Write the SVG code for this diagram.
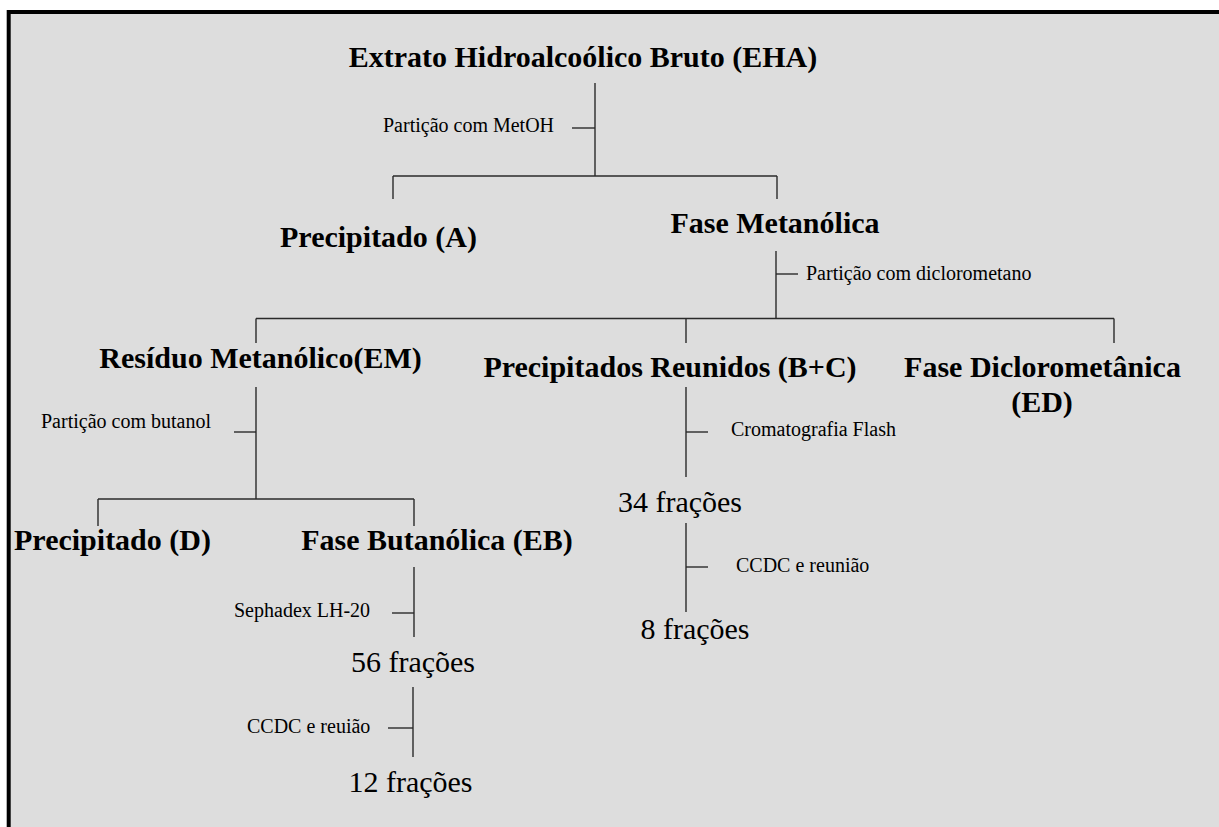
<svg xmlns="http://www.w3.org/2000/svg" width="1219" height="827" viewBox="0 0 1219 827">
<style>
.b{font-family:"Liberation Serif","Times New Roman",serif;font-weight:bold;font-size:30px;fill:#000;text-anchor:middle}
.r{font-family:"Liberation Serif","Times New Roman",serif;font-size:30px;fill:#000;text-anchor:middle}
.s{font-family:"Liberation Serif","Times New Roman",serif;font-size:20px;fill:#000}
.c line{stroke:#2a2a2a;stroke-width:1.4}
</style>
<rect x="0" y="0" width="1219" height="827" fill="#fff"/>
<rect x="8.7" y="12" width="1300" height="900" fill="#ddd" stroke="#000" stroke-width="4"/>
<g class="c" id="connectors">
<line x1="595" y1="83" x2="595" y2="176"/>
<line x1="572" y1="128" x2="595" y2="128"/>
<line x1="393" y1="176" x2="777" y2="176"/>
<line x1="393" y1="176" x2="393" y2="199"/>
<line x1="777" y1="176" x2="777" y2="199"/>
<line x1="776" y1="251" x2="776" y2="318.5"/>
<line x1="776" y1="274" x2="798" y2="274"/>
<line x1="256" y1="318.5" x2="1114" y2="318.5"/>
<line x1="256" y1="318.5" x2="256" y2="343"/>
<line x1="686" y1="318.5" x2="686" y2="343"/>
<line x1="1114" y1="318.5" x2="1114" y2="343"/>
<line x1="256" y1="387" x2="256" y2="499"/>
<line x1="234" y1="432" x2="256" y2="432"/>
<line x1="98" y1="499" x2="414" y2="499"/>
<line x1="98" y1="499" x2="98" y2="526"/>
<line x1="414" y1="499" x2="414" y2="526"/>
<line x1="414" y1="567" x2="414" y2="637"/>
<line x1="392" y1="613" x2="414" y2="613"/>
<line x1="413" y1="687" x2="413" y2="757"/>
<line x1="388" y1="728" x2="413" y2="728"/>
<line x1="686" y1="387" x2="686" y2="477"/>
<line x1="686" y1="432" x2="708" y2="432"/>
<line x1="686" y1="523" x2="686" y2="612"/>
<line x1="686" y1="567" x2="708" y2="567"/>
</g>
<g id="labels">
<text class="s" x="383" y="132">Partição com MetOH</text>
<text class="s" x="806" y="280">Partição com diclorometano</text>
<text class="s" x="41" y="428">Partição com butanol</text>
<text class="s" x="234" y="617">Sephadex LH-20</text>
<text class="s" x="247" y="733">CCDC e reuião</text>
<text class="s" x="731" y="436">Cromatografia Flash</text>
<text class="s" x="736" y="572">CCDC e reunião</text>
</g>
<g id="n-eha"><text class="b" x="583" y="67">Extrato Hidroalcoólico Bruto (EHA)</text></g>
<g id="n-precA"><text class="b" x="378.5" y="247">Precipitado (A)</text></g>
<g id="n-faseMet"><text class="b" x="775" y="233">Fase Metanólica</text></g>
<g id="n-residuo"><text class="b" x="260.5" y="368">Resíduo Metanólico(EM)</text></g>
<g id="n-precBC"><text class="b" x="670" y="377">Precipitados Reunidos (B+C)</text></g>
<g id="n-faseDCM"><text class="b" x="1042.5" y="377">Fase Diclorometânica</text><text class="b" x="1042" y="412">(ED)</text></g>
<g id="n-precD"><text class="b" x="112.5" y="550">Precipitado (D)</text></g>
<g id="n-faseBut"><text class="b" x="437" y="550">Fase Butanólica (EB)</text></g>
<g id="n-56"><text class="r" x="413" y="672">56 frações</text></g>
<g id="n-12"><text class="r" x="410.5" y="792">12 frações</text></g>
<g id="n-34"><text class="r" x="680" y="512">34 frações</text></g>
<g id="n-8"><text class="r" x="695" y="639">8 frações</text></g>
</svg>
